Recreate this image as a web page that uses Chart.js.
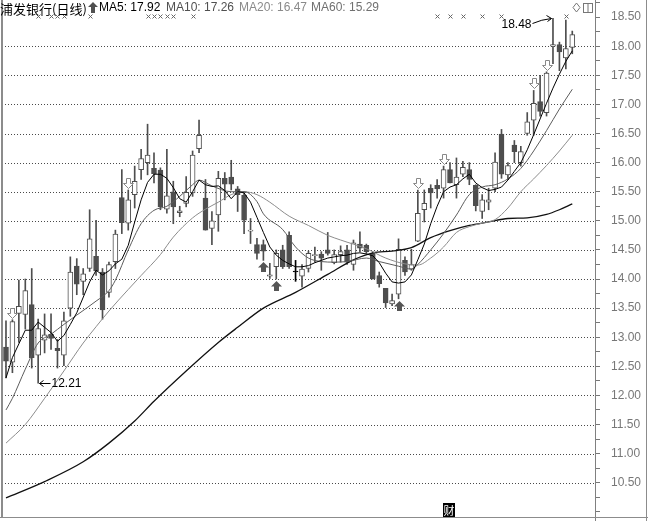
<!DOCTYPE html>
<html>
<head>
<meta charset="utf-8">
<script src="https://cdn.jsdelivr.net/npm/chart.js@4.4.1/dist/chart.umd.min.js"></script>
<style>
  html, body { margin: 0; padding: 0; background: #fff; }
  #wrap { position: relative; width: 648px; height: 521px; overflow: hidden; }
  #chart { position: absolute; left: 0; top: 0; }
  .hd { position: absolute; top: 0; line-height: 16px; font: 12px "Liberation Sans", Arial, sans-serif; white-space: nowrap; }
  .cn { font-family: "Noto Sans CJK SC", sans-serif; font-size: 13px; top: -1px; }
  #cai { position: absolute; left: 443px; top: 503px; width: 12px; height: 14px; background: #000; color: #fff;
         font: 11px/14px "Noto Sans CJK SC", sans-serif; text-align: center; }
</style>
</head>
<body>
<div id="wrap">
  <canvas id="chart" width="648" height="521"></canvas>
  <div class="hd cn" style="left:0px">浦发银行(日线)</div>
  <svg class="hd" style="left:88px;top:2px" width="10" height="11"><path d="M5 0 L10 5 L7 5 L7 11 L3 11 L3 5 L0 5 Z" fill="#505050"/></svg>
  <div class="hd" id="m5" style="left:99px;color:#000"></div>
  <div class="hd" id="m10" style="left:166px;color:#505050"></div>
  <div class="hd" id="m20" style="left:239px;color:#8a8a8a"></div>
  <div class="hd" id="m60" style="left:311px;color:#707070"></div>
  <svg class="hd" style="left:572px;top:2px" width="22" height="12">
    <path d="M4.5 1 L8 5.5 L4.5 10 L1 5.5 Z" fill="none" stroke="#777"/>
    <rect x="11.5" y="1.5" width="9" height="9" fill="none" stroke="#777"/>
    <line x1="16" y1="1.5" x2="16" y2="10.5" stroke="#777"/>
  </svg>
  <div id="cai">财</div>
</div>
<script>
// daily candles, index 0..88
const opens = [12.83,12.57,13.41,13.39,13.56,12.69,12.95,13.05,12.81,12.69,
  13.50,14.22,13.96,14.18,14.39,14.12,13.77,14.30,15.40,14.96,
  15.45,15.88,16.00,15.90,15.87,15.20,15.50,15.14,15.30,15.48,
  16.24,15.39,14.87,15.10,15.73,15.75,15.55,15.44,14.82,14.59,
  14.59,14.05,14.21,14.50,14.75,14.12,14.05,14.18,14.40,14.43,
  14.50,14.28,14.42,14.50,14.25,14.60,14.58,14.44,14.06,13.84,
  13.57,13.74,14.32,14.17,14.65,15.19,15.56,15.61,15.56,15.88,
  15.62,15.80,15.88,15.61,15.16,15.32,15.56,16.49,15.79,16.30,
  16.00,16.50,16.73,17.05,16.86,18.00,18.03,17.80,17.98]
const highs = [13.28,13.30,13.98,14.00,14.18,13.31,13.40,13.40,12.96,13.43,
  14.38,14.35,14.18,15.19,15.01,14.18,14.29,14.84,15.88,15.53,
  15.94,16.23,16.66,16.17,15.91,16.23,15.68,15.25,15.76,16.20,
  16.73,15.71,15.16,15.85,15.83,16.04,15.59,15.50,15.04,14.70,
  14.67,14.27,14.50,14.58,14.81,14.32,14.25,14.48,14.55,14.47,
  14.80,14.50,14.57,14.58,14.67,14.81,14.60,14.47,14.12,13.84,
  13.74,14.69,14.38,14.51,15.53,15.53,15.62,15.71,15.94,16.00,
  16.08,16.02,16.00,15.62,15.45,15.56,16.17,16.57,16.00,16.38,
  16.28,16.86,17.24,17.50,17.56,18.48,18.07,18.45,18.26]
const lows = [12.30,12.39,12.91,13.14,12.47,12.21,12.73,12.79,12.47,12.51,
  13.36,13.73,13.73,14.13,14.06,13.31,13.69,14.18,14.78,14.84,
  15.22,15.71,15.79,15.65,15.19,15.13,14.95,15.07,15.24,15.42,
  16.17,14.84,14.59,14.82,15.36,15.53,15.16,14.78,14.61,14.34,
  14.32,14.01,14.00,14.18,14.18,13.96,13.86,14.12,14.29,14.15,
  14.41,14.26,14.29,14.25,14.15,14.47,14.44,14.00,13.86,13.51,
  13.54,13.66,14.06,14.15,14.64,14.98,15.22,15.39,15.39,15.65,
  15.39,15.76,15.62,15.17,15.04,15.19,15.50,15.73,15.71,16.00,
  15.94,16.47,16.47,16.80,16.80,17.70,17.58,17.61,17.87]
const closes = [12.59,13.27,13.53,13.80,12.65,13.15,13.04,12.98,12.77,13.28,
  14.12,13.91,14.09,14.69,14.14,13.47,14.25,14.77,14.97,15.36,
  15.68,16.07,16.13,15.81,15.24,15.43,15.24,15.17,15.49,16.13,
  16.47,14.84,15.00,15.73,15.63,15.63,15.45,15.01,14.84,14.44,
  14.48,14.07,14.44,14.21,14.21,14.12,14.17,14.44,14.42,14.36,
  14.44,14.42,14.47,14.29,14.62,14.53,14.47,14.00,13.92,13.59,
  13.63,14.51,14.12,14.25,15.13,15.30,15.48,15.55,15.88,15.65,
  15.75,15.92,15.71,15.26,15.36,15.36,16.01,15.80,15.95,16.19,
  16.19,16.70,17.02,16.88,17.54,18.03,17.90,17.96,18.20]

// moving averages: [day index, price]
const ma5 = [[0,12.30],[1,12.65],[3,13.12],[4,13.12],[5,13.26],[7,13.08],[8,12.93],[9,13.03],[10,13.22],[11,13.42],
  [13,13.95],[14,14.15],[15,14.07],[16,14.14],[17,14.26],[18,14.34],[19,14.58],[20,14.98],[21,15.36],[22,15.66],
  [23,15.80],[24,15.80],[25,15.73],[26,15.57],[27,15.38],[28,15.32],[29,15.50],[30,15.70],[31,15.62],[32,15.59],
  [33,15.60],[34,15.52],[35,15.38],[36,15.50],[37,15.48],[38,15.32],[39,15.06],[40,14.80],[41,14.55],[42,14.41],
  [43,14.32],[44,14.26],[45,14.21],[46,14.21],[47,14.23],[48,14.28],[49,14.32],[50,14.36],[51,14.38],[52,14.40],
  [53,14.41],[54,14.44],[55,14.45],[56,14.43],[57,14.40],[58,14.28],[59,14.10],[60,13.95],[61,13.93],[62,13.95],
  [63,14.07],[64,14.33],[65,14.60],[66,14.95],[67,15.25],[68,15.50],[69,15.58],[70,15.62],[71,15.72],[72,15.80],
  [73,15.65],[74,15.57],[75,15.52],[76,15.54],[77,15.58],[78,15.70],[79,15.85],[80,16.00],[81,16.22],[82,16.48],
  [83,16.75],[84,17.02],[85,17.28],[86,17.52],[87,17.74],[88,17.92]]
const ma10 = [[0,11.75],[1,11.95],[3,12.45],[5,12.90],[7,13.05],[9,13.22],[11,13.38],[14,13.62],[16,13.80],[17,13.98],
  [19,14.50],[21,14.95],[23,15.18],[25,15.25],[27,15.42],[29,15.62],[30,15.70],[32,15.60],[35,15.50],[37,15.50],
  [39,15.33],[40,15.12],[43,14.85],[45,14.55],[47,14.36],[49,14.30],[51,14.29],[53,14.30],[56,14.36],[58,14.30],
  [61,14.22],[63,14.17],[64,14.25],[66,14.50],[68,14.78],[70,15.10],[72,15.45],[74,15.58],[76,15.62],[78,15.72],
  [80,15.90],[82,16.20],[84,16.55],[86,16.92],[88,17.26]]
const ma20 = [[0,11.18],[3,11.50],[6,11.95],[9,12.42],[12,12.90],[14,13.18],[16,13.45],[19,13.82],[21,14.06],[24,14.42],
  [26,14.72],[29,15.05],[31,15.20],[33,15.32],[35,15.45],[37,15.50],[39,15.45],[41,15.32],[44,15.08],[47,14.92],
  [50,14.75],[52,14.67],[56,14.52],[59,14.36],[62,14.26],[64,14.24],[66,14.36],[68,14.55],[70,14.80],[72,14.90],
  [74,14.96],[76,15.02],[78,15.22],[80,15.50],[82,15.72],[84,15.95],[86,16.20],[88,16.47]]
const ma60 = [[0,10.24],[6,10.52],[12,10.86],[16,11.18],[20,11.56],[23,11.90],[28,12.42],[33,12.91],[36,13.17],[40,13.50],
  [45,13.77],[50,14.08],[54,14.33],[57,14.45],[60,14.48],[63,14.54],[66,14.71],[69,14.83],[72,14.92],[75,14.98],
  [78,15.04],[81,15.05],[84,15.11],[86,15.19],[88,15.29]]

// signal markers (day indices)
const sellArrows = [1, 19, 64, 68, 82, 84]
const buyArrows = [40, 42, 61]
const crossMarks = [5, 7, 8, 9, 13, 22, 23, 24, 25, 26, 29, 67, 69, 71, 74, 77, 87]

// labelled price ticks on the right axis
const yLabels = [10.5, 11, 11.5, 12, 12.5, 13, 13.5, 14, 14.5, 15, 15.5, 16, 16.5, 17, 17.5, 18, 18.5]

const dark = '#4e4e4e'
const idx = opens.map((o, i) => i)
const toXY = arr => arr.map(p => ({ x: p[0], y: p[1] }))
const last = arr => arr[arr.length - 1][1].toFixed(2)

document.getElementById('m5').textContent = 'MA5: ' + last(ma5)
document.getElementById('m10').textContent = 'MA10: ' + last(ma10)
document.getElementById('m20').textContent = 'MA20: ' + last(ma20)
document.getElementById('m60').textContent = 'MA60: ' + last(ma60)

const bodyFill = idx.map(i => closes[i] > opens[i] ? '#fff' : (closes[i] < opens[i] ? dark : '#000'))
const bodyLine = idx.map(i => closes[i] === opens[i] ? '#000' : dark)

// dotted price grid, drawn on the canvas before the candles
const dottedGrid = {
  id: 'dottedGrid',
  beforeDatasetsDraw(chart) {
    const { ctx, chartArea: a, scales: { y } } = chart
    ctx.save()
    ctx.fillStyle = '#4a4a4a'
    yLabels.filter(v => v < 18.5).forEach(v => {
      const py = Math.round(y.getPixelForValue(v))
      for (let px = Math.round(a.left) + 5; px < a.right - 1; px += 3) ctx.fillRect(px, py, 1, 1)
    })
    ctx.restore()
  }
}

const decor = {
  id: 'decor',
  afterDatasetsDraw(chart) {
    const { ctx, scales: { x, y } } = chart
    ctx.save()
    // frame
    ctx.fillStyle = '#8c8c8c'
    ctx.fillRect(1, 0, 2, 518)
    ctx.fillRect(0, 517, 648, 1)
    ctx.fillRect(646, 0, 1, 521)

    // x marks along the top
    ctx.strokeStyle = '#666'
    ctx.lineWidth = 1
    crossMarks.forEach(i => {
      const px = Math.round(x.getPixelForValue(i)) + 0.5
      const py = 16.5
      ctx.beginPath()
      ctx.moveTo(px - 2, py - 2); ctx.lineTo(px + 2, py + 2)
      ctx.moveTo(px + 2, py - 2); ctx.lineTo(px - 2, py + 2)
      ctx.stroke()
    })

    // hollow down arrows above highs
    sellArrows.forEach(i => {
      const cx = Math.round(x.getPixelForValue(i)) + 0.5
      const by = Math.round(y.getPixelForValue(highs[i])) - 1.5
      ctx.beginPath()
      ctx.moveTo(cx - 2, by - 10); ctx.lineTo(cx + 2, by - 10); ctx.lineTo(cx + 2, by - 5)
      ctx.lineTo(cx + 5, by - 5); ctx.lineTo(cx, by); ctx.lineTo(cx - 5, by - 5); ctx.lineTo(cx - 2, by - 5)
      ctx.closePath()
      ctx.fillStyle = '#fff'; ctx.fill()
      ctx.strokeStyle = '#888'; ctx.stroke()
    })

    // filled up arrows below lows
    buyArrows.forEach(i => {
      const cx = Math.round(x.getPixelForValue(i)) + 0.5
      const ty = Math.round(y.getPixelForValue(lows[i])) + 2
      ctx.beginPath()
      ctx.moveTo(cx, ty); ctx.lineTo(cx + 5.5, ty + 5.5); ctx.lineTo(cx + 2.5, ty + 5.5); ctx.lineTo(cx + 2.5, ty + 10)
      ctx.lineTo(cx - 2.5, ty + 10); ctx.lineTo(cx - 2.5, ty + 5.5); ctx.lineTo(cx - 5.5, ty + 5.5)
      ctx.closePath()
      ctx.fillStyle = '#555'; ctx.fill()
    })

    ctx.font = '12px "Liberation Sans", Arial, sans-serif'
    ctx.fillStyle = '#000'
    ctx.strokeStyle = '#000'
    ctx.textBaseline = 'middle'

    // lowest low label
    const lo = Math.min(...lows), li = lows.indexOf(lo)
    let px = Math.round(x.getPixelForValue(li)) + 1.5, py = Math.round(y.getPixelForValue(lo)) + 0.5
    ctx.beginPath()
    ctx.moveTo(px, py); ctx.lineTo(px + 11, py)
    ctx.moveTo(px, py); ctx.lineTo(px + 4, py - 3)
    ctx.moveTo(px, py); ctx.lineTo(px + 4, py + 3)
    ctx.stroke()
    ctx.textAlign = 'left'
    ctx.fillText(lo.toFixed(2), px + 12, py)

    // highest high label
    const hi = Math.max(...highs), hix = highs.indexOf(hi)
    px = Math.round(x.getPixelForValue(hix)) - 1.5
    py = Math.round(y.getPixelForValue(hi)) + 0.5
    ctx.beginPath()
    ctx.moveTo(px - 19, py + 5)
    ctx.quadraticCurveTo(px - 10, py + 1, px, py)
    ctx.moveTo(px, py); ctx.lineTo(px - 5, py - 3)
    ctx.moveTo(px, py); ctx.lineTo(px - 4, py + 3)
    ctx.stroke()
    ctx.textAlign = 'right'
    ctx.fillText(hi.toFixed(2), px - 20, py + 6)
    ctx.restore()
  }
}

const lineDs = (label, arr, color, width, smooth) => ({
  type: 'line', label, data: toXY(arr), borderColor: color, borderWidth: width,
  pointRadius: 0, fill: false, order: 0,
  cubicInterpolationMode: smooth ? 'monotone' : 'default', tension: 0
})

new Chart(document.getElementById('chart'), {
  data: {
    datasets: [
      lineDs('MA5', ma5, '#000', 1, false),
      lineDs('MA10', ma10, '#5c5c5c', 1, true),
      lineDs('MA20', ma20, '#8c8c8c', 1, true),
      lineDs('MA60', ma60, '#111', 1.3, true),
      {
        type: 'bar', label: 'body', order: 1, grouped: false,
        data: idx.map(i => ({ x: i, y: [opens[i], closes[i]] })),
        backgroundColor: bodyFill, borderColor: bodyLine, borderWidth: 1,
        borderSkipped: false, barThickness: 5, minBarLength: 1
      },
      {
        type: 'bar', label: 'wick', order: 2, grouped: false,
        data: idx.map(i => ({ x: i, y: [lows[i], highs[i]] })),
        backgroundColor: bodyLine, borderWidth: 0, barThickness: 1
      }
    ]
  },
  options: {
    responsive: false,
    animation: false,
    events: [],
    layout: { padding: 0 },
    plugins: { legend: { display: false }, tooltip: { enabled: false } },
    scales: {
      x: { type: 'linear', display: false, min: -0.93, max: 91.53, offset: false },
      y: {
        type: 'linear', position: 'right', min: 9.842, max: 18.794,
        afterBuildTicks: s => {
          const t = []
          for (let v = 10; v <= 18.75 + 1e-9; v += 0.25) t.push({ value: Math.round(v * 100) / 100 })
          s.ticks = t
        },
        afterFit: s => { s.width = 53; s.paddingTop = 0; s.paddingBottom = 0 },
        ticks: {
          autoSkip: false, padding: 11, color: '#777',
          font: { family: '"Liberation Sans", Arial, sans-serif', size: 12 },
          callback: v => yLabels.includes(v) ? v.toFixed(2) : ''
        },
        grid: { drawOnChartArea: false, tickColor: '#777', tickLength: 5, tickWidth: 1 },
        border: { color: '#808080', width: 1 }
      }
    }
  },
  plugins: [dottedGrid, decor]
})
</script>
</body>
</html>
